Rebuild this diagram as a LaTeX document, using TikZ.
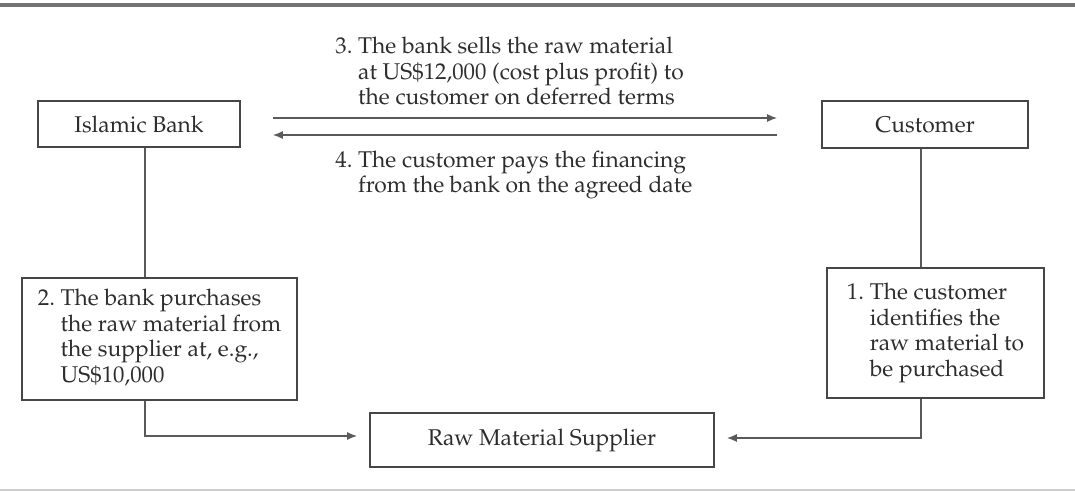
\documentclass[tikz,border=0pt]{standalone}
\usepackage[T1]{fontenc}
\usepackage{mathpazo}
\definecolor{boxgray}{RGB}{70,70,70}
\definecolor{linegray}{RGB}{90,90,90}
\definecolor{textgray}{RGB}{45,45,45}
\definecolor{rulegray}{RGB}{115,115,115}
\definecolor{rulelight}{RGB}{205,205,205}
\usetikzlibrary{arrows.meta,positioning}

% numbered text with hanging lines
\newcommand{\steptext}[2]{#1\ \begin{tabular}[t]{@{}l@{}}#2\end{tabular}}

\begin{document}
\begin{tikzpicture}[x=0.5pt, y=-0.5pt,
    every node/.style={font=\fontsize{11.4}{12.7}\selectfont, text=textgray},
    party/.style={draw=boxgray, line width=0.8pt, inner sep=2pt},
    stepbox/.style={draw=boxgray, line width=0.8pt, inner sep=3pt},
    flow/.style={draw=linegray, line width=0.8pt},
    flowarrow/.style={flow, -{Latex[length=5pt, width=4pt]}}]

\useasboundingbox (0,0) rectangle (1075,492);

% === Rules ===
\draw[rulegray, line width=2.2pt] (0,5) -- (1075,5);
\draw[rulelight, line width=1.2pt] (0,490) -- (1075,490);

% === Parties ===
\node[party, minimum width=101pt, minimum height=23pt] (bank) at (139,124) {Islamic Bank};
\node[party, minimum width=103pt, minimum height=23.5pt] (customer) at (925,124.5) {Customer};
\node[party, minimum width=172pt, minimum height=27pt] (supplier) at (542,440) {Raw Material Supplier};

% === Steps 1 and 2 ===
\node[stepbox, minimum width=137.5pt, minimum height=61pt] (purchase) at (159.5,339)
     {\steptext{2.}{The bank purchases\\the raw material from\\the supplier at, e.g.,\\US\$10,000}};
\node[stepbox, minimum width=108.5pt, minimum height=65pt] (identify) at (935.5,333)
     {\steptext{1.}{The customer\\identifies the\\raw material to\\be purchased}};

% === Steps 3 and 4 ===
\node[anchor=base west, inner sep=0pt] (sell) at (335,54)
     {\steptext{3.}{The bank sells the raw material\\at US\$12,000 (cost plus profit) to\\the customer on deferred terms}};
\node[anchor=base west, inner sep=0pt] (pay) at (335,167)
     {\steptext{4.}{The customer pays the financing\\from the bank on the agreed date}};

% === Connectors ===
\coordinate (bankx) at (145,0);
\coordinate (custx) at (921,0);
\draw[flow] (bank.south -| bankx) -- (purchase.north -| bankx);
\draw[flow] (customer.south -| custx) -- (identify.north -| custx);
\draw[flowarrow, shorten >=6pt] (purchase.south -| bankx) |- ([yshift=2pt]supplier.west);
\draw[flowarrow, shorten >=6pt] (identify.south -| custx) |- ([yshift=1pt]supplier.east);
\draw[flowarrow, shorten <=16pt, shorten >=22pt] ([yshift=3pt]bank.east) -- ([yshift=3pt]bank.east -| customer.west);
\draw[flowarrow, shorten <=22pt, shorten >=16pt] ([yshift=-5.5pt]bank.east -| customer.west) -- ([yshift=-5.5pt]bank.east);

\end{tikzpicture}
\end{document}
